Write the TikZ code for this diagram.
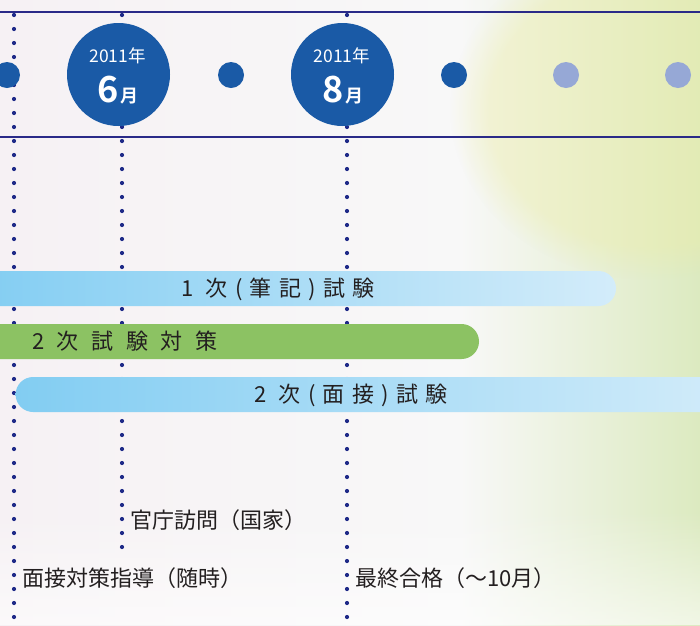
\documentclass[tikz,border=0pt]{standalone}
\usepackage{fontspec}
\usetikzlibrary{fadings}
\setmainfont{Noto Sans CJK JP}
\newfontfamily\jpb{Noto Sans CJK JP Bold}
\definecolor{navy}{HTML}{2A2A88}
\definecolor{dotc}{HTML}{1F2A88}
\definecolor{circ}{HTML}{1A5AA6}
\definecolor{lcirc}{HTML}{96A8D6}
\definecolor{barL}{HTML}{82CDF2}
\definecolor{barR}{HTML}{D3ECFA}
\definecolor{barG}{HTML}{8CC263}
\definecolor{txt}{HTML}{231F20}
\definecolor{bg1}{HTML}{F6F1F4}
\definecolor{bg2}{HTML}{F8F8F8}
\definecolor{bg3}{HTML}{DCEAC0}
\definecolor{ylw}{HTML}{EDEDA6}
\tikzset{
  dotmark/.style={fill=dotc, draw=none},
  bigcirc/.style={circle, fill=circ, minimum size=103pt, inner sep=0pt},
  smallcirc/.style={circle, fill=circ, minimum size=26pt, inner sep=0pt},
  lightcirc/.style={circle, fill=lcirc, minimum size=26pt, inner sep=0pt},
  yeartxt/.style={text=white, font=\fontsize{17.5}{17.5}\selectfont, inner sep=0pt},
  monnum/.style={text=white, font=\jpb\fontsize{36}{36}\selectfont, inner sep=0pt, anchor=base east},
  monkanji/.style={text=white, font=\jpb\fontsize{18}{18}\selectfont, inner sep=0pt, anchor=base west},
  bartxt/.style={text=txt, font=\fontsize{22}{22}\selectfont\addfontfeatures{LetterSpace=33}, inner sep=0pt},
  bartxtg/.style={text=txt, font=\fontsize{22}{22}\selectfont\addfontfeatures{LetterSpace=57}, inner sep=0pt},
  labeltxt/.style={text=txt, font=\fontsize{22}{22}\selectfont, inner sep=0pt, anchor=west},
}
\begin{document}
\begin{tikzpicture}[x=1pt,y=-1pt]
\useasboundingbox (0,0) rectangle (700,625);
% background
\path[left color=bg1, right color=bg2] (0,0) rectangle (460,625);
\path[left color=bg2, right color=bg3] (460,0) rectangle (700,625);
\fill[ylw, path fading=circle with fuzzy edge 20 percent, opacity=0.4] (650,110) ellipse (200pt and 170pt);
\fill[white, path fading=north, opacity=0.6] (0,510) rectangle (700,625);
% horizontal lines
\draw[navy, line width=2pt] (0,12) -- (700,12);
\draw[navy, line width=2pt] (0,137) -- (700,137);
% dotted verticals
\foreach \yy in {15,29,...,625} {\fill[dotmark] (14,\yy) circle (2.1pt);}
\foreach \yy in {15,29,...,548} {\fill[dotmark] (122,\yy) circle (2.1pt);}
\foreach \yy in {15,29,...,625} {\fill[dotmark] (347,\yy) circle (2.1pt);}
% circles
\node[smallcirc] (c0) at (7,75) {};
\node[bigcirc] (c6) at (118.5,74.5) {};
\node[smallcirc] (c7) at (231,75) {};
\node[bigcirc] (c8) at (342.5,74.5) {};
\node[smallcirc] (c9) at (454,75) {};
\node[lightcirc] (c10) at (566,75) {};
\node[lightcirc] (c11) at (678,75) {};
% circle texts
\node[yeartxt] (y6) at (117.5,56) {2011年};
\node[monnum] (m6n) at (119,102) {6};
\node[monkanji] (m6k) at (120,102) {月};
\node[yeartxt] (y8) at (342,56) {2011年};
\node[monnum] (m8n) at (344,102) {8};
\node[monkanji] (m8k) at (345,102) {月};
% bars
\path[left color=barL, right color=barR, rounded corners=17.5pt] (-30,271) rectangle (616,306);
\path[fill=barG, rounded corners=17.5pt] (-30,324) rectangle (479,359);
\path[left color=barL, right color=barR, rounded corners=17.5pt] (15.6,377) rectangle (740,412);
\node[bartxt] (b1) at (278,289) {1 次(筆記)試験};
\node[bartxtg, anchor=west] (b2) at (32,341.5) {2次試験対策};
\node[bartxt] (b3) at (351,395) {2 次(面接)試験};
% labels
\node[labeltxt] (l1) at (130,520) {官庁訪問（国家）};
\node[labeltxt] (l2) at (22,578) {面接対策指導（随時）};
\node[labeltxt] (l3) at (355,578) {最終合格（～10月）};
\end{tikzpicture}
\end{document}
